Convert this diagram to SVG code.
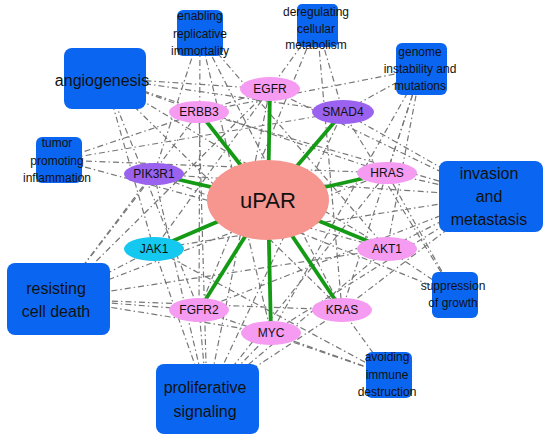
<svg xmlns="http://www.w3.org/2000/svg" width="550" height="441" viewBox="0 0 550 441">
<style>
text{font-family:"Liberation Sans",Arial,sans-serif;fill:#111;text-anchor:middle}
.d{stroke:#777;stroke-width:1.2;stroke-dasharray:6 3 1.5 3;fill:none}
.g{stroke:#159a15;stroke-width:3.8;fill:none}
.hb{fill:#0a66f0}
.pk{fill:#f59bf2}
.pu{fill:#9a62ee}
.cy{fill:#14c8f0}
.s{font-size:12px}
.m{font-size:16px}
</style>
<rect width="550" height="441" fill="#fff"/>
<g id="connectors">
<g id="dash">
<!-- angiogenesis -->
<line class="d" x1="105" y1="78" x2="270" y2="89"/>
<line class="d" x1="105" y1="78" x2="199" y2="112"/>
<line class="d" x1="105" y1="78" x2="343" y2="112"/>
<line class="d" x1="105" y1="78" x2="387" y2="173"/>
<line class="d" x1="105" y1="78" x2="387" y2="249"/>
<line class="d" x1="105" y1="78" x2="342" y2="310"/>
<line class="d" x1="105" y1="78" x2="154" y2="249"/>
<line class="d" x1="105" y1="78" x2="199" y2="310"/>
<!-- immortality -->
<line class="d" x1="200" y1="33" x2="154" y2="174"/>
<line class="d" x1="200" y1="33" x2="199" y2="310"/>
<line class="d" x1="200" y1="33" x2="271" y2="333"/>
<line class="d" x1="200" y1="33" x2="342" y2="310"/>
<line class="d" x1="200" y1="33" x2="387" y2="249"/>
<!-- metabolism -->
<line class="d" x1="317" y1="24" x2="343" y2="112"/>
<line class="d" x1="317" y1="24" x2="199" y2="310"/>
<line class="d" x1="317" y1="24" x2="154" y2="249"/>
<line class="d" x1="317" y1="24" x2="342" y2="310"/>
<!-- genome -->
<line class="d" x1="421" y1="69" x2="343" y2="112"/>
<line class="d" x1="421" y1="69" x2="387" y2="173"/>
<line class="d" x1="421" y1="69" x2="387" y2="249"/>
<line class="d" x1="421" y1="69" x2="342" y2="310"/>
<line class="d" x1="421" y1="69" x2="271" y2="333"/>
<line class="d" x1="421" y1="69" x2="199" y2="112"/>
<!-- inflammation -->
<line class="d" x1="59" y1="160" x2="343" y2="112"/>
<line class="d" x1="59" y1="160" x2="387" y2="173"/>
<line class="d" x1="59" y1="160" x2="387" y2="249"/>
<line class="d" x1="59" y1="160" x2="270" y2="89"/>
<!-- invasion -->
<line class="d" x1="491" y1="196" x2="270" y2="89"/>
<line class="d" x1="491" y1="196" x2="199" y2="112"/>
<line class="d" x1="491" y1="196" x2="343" y2="112"/>
<line class="d" x1="491" y1="196" x2="387" y2="173"/>
<line class="d" x1="491" y1="196" x2="154" y2="174"/>
<line class="d" x1="491" y1="196" x2="154" y2="249"/>
<line class="d" x1="491" y1="196" x2="387" y2="249"/>
<line class="d" x1="491" y1="196" x2="342" y2="310"/>
<line class="d" x1="491" y1="196" x2="271" y2="333"/>
<line class="d" x1="491" y1="196" x2="199" y2="310"/>
<!-- resisting cell death -->
<line class="d" x1="58" y1="299" x2="270" y2="89"/>
<line class="d" x1="58" y1="299" x2="199" y2="112"/>
<line class="d" x1="58" y1="299" x2="154" y2="174"/>
<line class="d" x1="58" y1="299" x2="154" y2="249"/>
<line class="d" x1="58" y1="299" x2="387" y2="173"/>
<line class="d" x1="58" y1="299" x2="387" y2="249"/>
<line class="d" x1="58" y1="299" x2="199" y2="310"/>
<line class="d" x1="58" y1="299" x2="342" y2="310"/>
<line class="d" x1="58" y1="299" x2="271" y2="333"/>
<!-- proliferative -->
<line class="d" x1="207" y1="399" x2="154" y2="174"/>
<line class="d" x1="207" y1="399" x2="154" y2="249"/>
<line class="d" x1="207" y1="399" x2="199" y2="310"/>
<line class="d" x1="207" y1="399" x2="199" y2="112"/>
<line class="d" x1="207" y1="399" x2="270" y2="89"/>
<line class="d" x1="207" y1="399" x2="271" y2="333"/>
<line class="d" x1="207" y1="399" x2="342" y2="310"/>
<line class="d" x1="207" y1="399" x2="387" y2="249"/>
<line class="d" x1="207" y1="399" x2="387" y2="173"/>
<line class="d" x1="207" y1="399" x2="343" y2="112"/>
<!-- suppression -->
<line class="d" x1="455" y1="295" x2="343" y2="112"/>
<line class="d" x1="455" y1="295" x2="387" y2="173"/>
<line class="d" x1="455" y1="295" x2="387" y2="249"/>
<line class="d" x1="455" y1="295" x2="154" y2="174"/>
<!-- avoiding -->
<line class="d" x1="389" y1="375" x2="342" y2="310"/>
<line class="d" x1="389" y1="375" x2="271" y2="333"/>
<line class="d" x1="389" y1="375" x2="154" y2="249"/>
<line class="d" x1="389" y1="375" x2="199" y2="310"/>
</g>
<g id="green">
<line class="g" x1="268" y1="200" x2="270" y2="89"/>
<line class="g" x1="268" y1="200" x2="199" y2="112"/>
<line class="g" x1="268" y1="200" x2="343" y2="112"/>
<line class="g" x1="268" y1="200" x2="387" y2="173"/>
<line class="g" x1="268" y1="200" x2="154" y2="174"/>
<line class="g" x1="268" y1="200" x2="154" y2="249"/>
<line class="g" x1="268" y1="200" x2="387" y2="249"/>
<line class="g" x1="268" y1="200" x2="199" y2="310"/>
<line class="g" x1="268" y1="200" x2="342" y2="310"/>
<line class="g" x1="268" y1="200" x2="271" y2="333"/>
</g>
</g>
<g id="angiogenesis"><rect class="hb" x="64" y="48" width="82" height="61" rx="8"/><text class="m" x="102" y="86">angiogenesis</text></g>
<g id="immortality"><rect class="hb" x="177" y="10" width="46" height="46" rx="6"/><text class="s" x="200" y="20">enabling</text><text class="s" x="200" y="37.5">replicative</text><text class="s" x="200" y="55">immortality</text></g>
<g id="metabolism"><rect class="hb" x="297" y="4" width="41" height="43" rx="5"/><text class="s" x="316" y="16">deregulating</text><text class="s" x="316" y="32.5">cellular</text><text class="s" x="316" y="49">metabolism</text></g>
<g id="genome"><rect class="hb" x="396" y="43" width="51" height="52" rx="6"/><text class="s" x="420" y="56">genome</text><text class="s" x="420" y="73">instability and</text><text class="s" x="420" y="90">mutations</text></g>
<g id="inflammation"><rect class="hb" x="36" y="137" width="46" height="46" rx="6"/><text class="s" x="57" y="147">tumor</text><text class="s" x="57" y="164.5">promoting</text><text class="s" x="57" y="182">inflammation</text></g>
<g id="invasion"><rect class="hb" x="439" y="161" width="104" height="71" rx="8"/><text class="m" x="489" y="179">invasion</text><text class="m" x="489" y="202">and</text><text class="m" x="489" y="225">metastasis</text></g>
<g id="resisting"><rect class="hb" x="7" y="263" width="103" height="72" rx="8"/><text class="m" x="56" y="294">resisting</text><text class="m" x="56" y="317">cell death</text></g>
<g id="proliferative"><rect class="hb" x="156" y="364" width="103" height="70" rx="8"/><text class="m" x="205" y="393">proliferative</text><text class="m" x="205" y="417">signaling</text></g>
<g id="suppression"><rect class="hb" x="432" y="272" width="46" height="46" rx="6"/><text class="s" x="453" y="290">suppression</text><text class="s" x="453" y="307">of growth</text></g>
<g id="avoiding"><rect class="hb" x="366" y="352" width="46" height="46" rx="6"/><text class="s" x="387" y="361">avoiding</text><text class="s" x="387" y="378.5">immune</text><text class="s" x="387" y="396">destruction</text></g>
<g id="uPAR"><ellipse cx="268" cy="200" rx="61" ry="40" fill="#f7958f"/><text x="268" y="208" font-size="22">uPAR</text></g>
<g id="EGFR"><ellipse class="pk" cx="270" cy="89" rx="30" ry="12"/><text class="s" x="270" y="93">EGFR</text></g>
<g id="ERBB3"><ellipse class="pk" cx="199" cy="112" rx="30" ry="11"/><text class="s" x="199" y="116">ERBB3</text></g>
<g id="SMAD4"><ellipse class="pu" cx="343" cy="112" rx="31" ry="12"/><text class="s" x="343" y="116">SMAD4</text></g>
<g id="HRAS"><ellipse class="pk" cx="387" cy="173" rx="30" ry="11"/><text class="s" x="387" y="177">HRAS</text></g>
<g id="PIK3R1"><ellipse class="pu" cx="154" cy="174" rx="30" ry="11"/><text class="s" x="154" y="178">PIK3R1</text></g>
<g id="JAK1"><ellipse class="cy" cx="154" cy="249" rx="30" ry="12"/><text class="s" x="154" y="253">JAK1</text></g>
<g id="AKT1"><ellipse class="pk" cx="387" cy="249" rx="30" ry="12"/><text class="s" x="387" y="253">AKT1</text></g>
<g id="FGFR2"><ellipse class="pk" cx="199" cy="310" rx="30" ry="12"/><text class="s" x="199" y="314">FGFR2</text></g>
<g id="KRAS"><ellipse class="pk" cx="342" cy="310" rx="30" ry="12"/><text class="s" x="342" y="314">KRAS</text></g>
<g id="MYC"><ellipse class="pk" cx="271" cy="333" rx="30" ry="12"/><text class="s" x="271" y="337">MYC</text></g>
</svg>
